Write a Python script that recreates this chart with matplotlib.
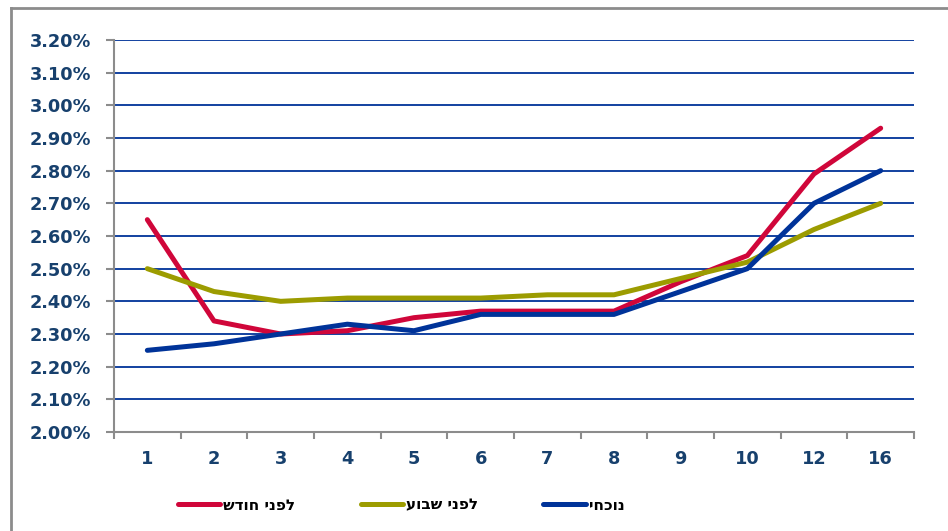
import matplotlib
matplotlib.use("Agg")
import matplotlib.pyplot as plt
from matplotlib.lines import Line2D
from matplotlib.ticker import FuncFormatter

# data
periods = ['1', '2', '3', '4', '5', '6', '7', '8', '9', '10', '12', '16']
month_ago = [2.65, 2.34, 2.30, 2.31, 2.35, 2.37, 2.37, 2.37, 2.46, 2.54, 2.79, 2.93]
week_ago = [2.50, 2.43, 2.40, 2.41, 2.41, 2.41, 2.42, 2.42, 2.47, 2.52, 2.62, 2.70]
current = [2.25, 2.27, 2.30, 2.33, 2.31, 2.36, 2.36, 2.36, 2.43, 2.50, 2.70, 2.80]
labels = ['לפני חודש', 'לפני שבוע', 'נוכחי']

# matplotlib has no bidi, so flip the hebrew for display
def rtl(s):
    return s[::-1]

navy = '#17406D'
grey = '#8C8C8C'

fig = plt.figure(figsize=(9.48, 5.31), dpi=100)
ax = fig.add_axes([114 / 948, 99 / 531, 800 / 948, 392 / 531])

x = range(len(periods))
ax.plot(x, month_ago, color='#D0063A', lw=3.6, label=rtl(labels[0]), solid_capstyle='round', zorder=3)
ax.plot(x, week_ago, color='#9C9C00', lw=3.6, label=rtl(labels[1]), solid_capstyle='round', zorder=3)
ax.plot(x, current, color='#003399', lw=3.6, label=rtl(labels[2]), solid_capstyle='round', zorder=4)

ax.set_xlim(-0.5, len(periods) - 0.5)
ax.set_ylim(2.0, 3.2)
yt = [2.0 + 0.1 * i for i in range(13)]
ax.set_yticks(yt)
ax.yaxis.set_major_formatter(FuncFormatter(lambda v, p: '%.2f%%' % v))
for v in yt[1:]:
    ax.axhline(v, color='#003399', lw=1.3, zorder=1)

ax.set_xticks(list(x))
ax.set_xticklabels(periods)
ax.set_xticks([i - 0.5 for i in range(len(periods) + 1)], minor=True)
ax.tick_params(axis='x', which='major', length=0, pad=13)
ax.tick_params(axis='x', which='minor', length=5, width=1.5, color=grey)
ax.tick_params(axis='y', length=5.5, width=1.5, color=grey, pad=11)
for lab in ax.get_xticklabels() + ax.get_yticklabels():
    lab.set_fontsize(12.8)
    lab.set_fontweight('bold')
    lab.set_color(navy)

for s in ['top', 'right']:
    ax.spines[s].set_visible(False)
for s in ['left', 'bottom']:
    ax.spines[s].set_color(grey)
    ax.spines[s].set_linewidth(1.5)

leg = fig.legend(loc='center', bbox_to_anchor=(401 / 948, 1 - 505 / 531), ncol=3,
                 frameon=False, fontsize=11, handlelength=2.8, handletextpad=0.15,
                 columnspacing=4.3)
for t in leg.get_texts():
    t.set_fontweight('bold')
    t.set_color('black')

# outer frame (only top and left edges visible in the reference)
fig.add_artist(Line2D([11 / 948, 1], [1 - 8 / 531, 1 - 8 / 531], color=grey, lw=2))
fig.add_artist(Line2D([11 / 948, 11 / 948], [0, 1 - 8 / 531], color=grey, lw=2))

fig.savefig('out.png', dpi=100)
